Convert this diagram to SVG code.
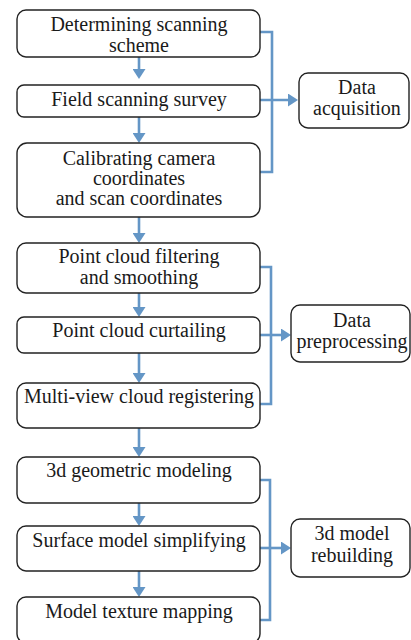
<svg xmlns="http://www.w3.org/2000/svg" width="411" height="640" viewBox="0 0 411 640">
<defs>
<style>
.box{fill:#fff;stroke:#222;stroke-width:1.4}
.t{font-family:'Liberation Serif','DejaVu Serif',serif;font-size:20px;fill:#1a1a1a;text-anchor:middle}
.c{fill:none;stroke:#6496c6;stroke-width:2.6}
</style>
<marker id="ah" viewBox="0 0 10 13" refX="6" refY="6.5" markerWidth="10" markerHeight="13" markerUnits="userSpaceOnUse" orient="auto">
<path d="M0,0 L10,6.5 L0,13 z" fill="#6496c6"/>
</marker>
</defs>
<rect width="411" height="640" fill="#fff"/>
<g id="connectors">
<path class="c" d="M139 57 V75" marker-end="url(#ah)"/>
<path class="c" d="M139 117 V139" marker-end="url(#ah)"/>
<path class="c" d="M139 217 V239" marker-end="url(#ah)"/>
<path class="c" d="M139 293 V313" marker-end="url(#ah)"/>
<path class="c" d="M139 353 V379" marker-end="url(#ah)"/>
<path class="c" d="M139 428 V453" marker-end="url(#ah)"/>
<path class="c" d="M139 503 V522" marker-end="url(#ah)"/>
<path class="c" d="M139 571 V593" marker-end="url(#ah)"/>
<path class="c" d="M260 32 H272 V172 H260"/>
<path class="c" d="M260 100 H294" marker-end="url(#ah)"/>
<path class="c" d="M260 267 H271 V404 H260"/>
<path class="c" d="M260 335 H287" marker-end="url(#ah)"/>
<path class="c" d="M260 480 H270 V620 H260"/>
<path class="c" d="M260 548 H287" marker-end="url(#ah)"/>
</g>
<g id="n1"><rect class="box" x="17" y="10" width="243" height="47" rx="9"/><text class="t" x="139" y="31" font-family="Liberation Serif">Determining scanning</text><text class="t" x="139" y="52">scheme</text></g>
<g id="n2"><rect class="box" x="17" y="85" width="243" height="32" rx="7"/><text class="t" x="139" y="106">Field scanning survey</text></g>
<g id="n3"><rect class="box" x="17" y="143" width="243" height="74" rx="10"/><text class="t" x="139" y="165">Calibrating camera</text><text class="t" x="139" y="185">coordinates</text><text class="t" x="139" y="205">and scan coordinates</text></g>
<g id="n4"><rect class="box" x="17" y="243" width="243" height="50" rx="9"/><text class="t" x="139" y="263">Point cloud filtering</text><text class="t" x="139" y="284">and smoothing</text></g>
<g id="n5"><rect class="box" x="17" y="317" width="243" height="36" rx="7"/><text class="t" x="139" y="337">Point cloud curtailing</text></g>
<g id="n6"><rect class="box" x="17" y="383" width="243" height="45" rx="9"/><text class="t" x="139" y="403">Multi-view cloud registering</text></g>
<g id="n7"><rect class="box" x="17" y="457" width="243" height="46" rx="9"/><text class="t" x="139" y="477">3d geometric modeling</text></g>
<g id="n8"><rect class="box" x="17" y="526" width="243" height="45" rx="9"/><text class="t" x="139" y="547">Surface model simplifying</text></g>
<g id="n9"><rect class="box" x="17" y="597" width="243" height="46" rx="9"/><text class="t" x="139" y="618">Model texture mapping</text></g>
<g id="r1"><rect class="box" x="299" y="73" width="110" height="55" rx="9"/><text class="t" x="357" y="94">Data</text><text class="t" x="357" y="115">acquisition</text></g>
<g id="r2"><rect class="box" x="291" y="305" width="119" height="57" rx="9"/><text class="t" x="352" y="327">Data</text><text class="t" x="352" y="348">preprocessing</text></g>
<g id="r3"><rect class="box" x="291" y="519" width="119" height="58" rx="9"/><text class="t" x="352" y="540">3d model</text><text class="t" x="352" y="562">rebuilding</text></g>
</svg>
